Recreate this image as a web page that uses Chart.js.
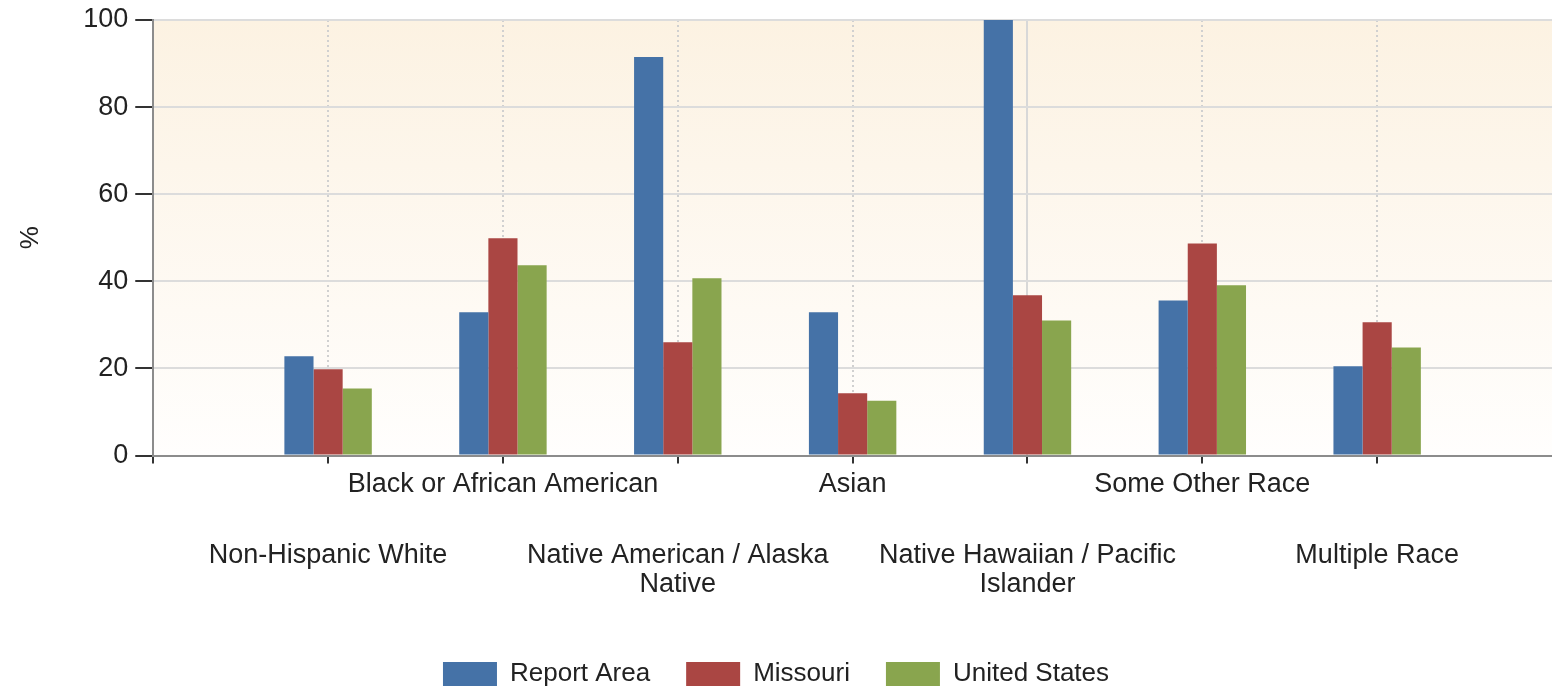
<!DOCTYPE html>
<html>
<head>
<meta charset="utf-8">
<script src="https://cdn.jsdelivr.net/npm/chart.js@4"></script>
<style>
  html, body { margin: 0; padding: 0; background: #fff; }
  #wrap { width: 1552px; height: 691px; }
</style>
</head>
<body>
<div id="wrap"><canvas id="chart"></canvas></div>
<script>
// Data (percent)
const categories = [
  'Non-Hispanic White',
  'Black or African American',
  ['Native American / Alaska', 'Native'],
  'Asian',
  ['Native Hawaiian / Pacific', 'Islander'],
  'Some Other Race',
  'Multiple Race'
];
const reportArea   = [22.8, 32.9, 91.5, 32.9, 100, 35.6, 20.5];
const missouri     = [19.8, 49.9, 26.0, 14.3, 36.8, 48.7, 30.6];
const unitedStates = [15.4, 43.7, 40.7, 12.6, 31.0, 39.1, 24.8];
const yTicks = [0, 20, 40, 60, 80, 100];

const FONT = "'Liberation Sans', Arial, sans-serif";
const TEXT = '#222';

// the axis runs one empty slot past each end, so pad labels and values
const labels = ['', ...categories, ''];
const pad = arr => [null, ...arr, null];
const lastIdx = labels.length - 1;

// light gradient behind the plot area
const plotBackground = {
  id: 'plotBackground',
  beforeDraw(chart) {
    const { ctx, chartArea: a } = chart;
    const g = ctx.createLinearGradient(0, a.top, 0, a.bottom);
    g.addColorStop(0, '#fcf2e2');
    g.addColorStop(1, '#fffefd');
    ctx.save();
    ctx.fillStyle = g;
    ctx.fillRect(a.left, a.top, a.right - a.left, a.bottom - a.top);
    ctx.restore();
  }
};

// plot runs right to the canvas edge
const noSidePadding = scale => {
  scale.paddingLeft = 0;
  scale.paddingRight = 0;
};

new Chart(document.getElementById('chart'), {
  type: 'bar',
  data: {
    labels: labels,
    datasets: [
      { label: 'Report Area', data: pad(reportArea), backgroundColor: '#4572a7' },
      { label: 'Missouri', data: pad(missouri), backgroundColor: '#aa4643' },
      { label: 'United States', data: pad(unitedStates), backgroundColor: '#89a54e' }
    ]
  },
  options: {
    responsive: true,
    maintainAspectRatio: false,
    animation: false,
    categoryPercentage: 0.5,
    barPercentage: 1.0,
    layout: { padding: { top: 20, right: 0, bottom: -6, left: 0 } },
    plugins: {
      tooltip: { enabled: false },
      legend: {
        position: 'bottom',
        labels: {
          boxWidth: 54,
          boxHeight: 24,
          padding: 36,
          color: TEXT,
          font: { family: FONT, size: 26 }
        }
      }
    },
    scales: {
      x: {
        type: 'category',
        offset: false,
        afterFit: noSidePadding,
        grid: {
          offset: false,
          lineWidth: 2,
          color: ctx => (ctx.index === 0 || ctx.index === lastIdx) ? 'rgba(0,0,0,0)' : '#d0d0d0',
          tickLength: 8,
          tickWidth: 2,
          tickColor: ctx => ctx.index === lastIdx ? 'rgba(0,0,0,0)' : '#333'
        },
        border: { color: '#8c8c8c', width: 2, dash: [2, 3] },
        ticks: {
          autoSkip: false,
          maxRotation: 0,
          minRotation: 0,
          padding: 5,
          color: TEXT,
          font: { family: FONT, size: 27, lineHeight: 1.2 },
          // first row: every second category
          callback: function (value, index) {
            return index % 2 === 0 ? this.getLabelForValue(value) : '';
          }
        }
      },
      x2: {
        type: 'category',
        position: 'bottom',
        labels: labels,
        offset: false,
        afterFit: scale => {
          noSidePadding(scale);
          scale.height -= 9;
        },
        grid: {
          offset: false,
          drawTicks: false,
          lineWidth: 2,
          // the one solid divider in the plot
          color: ctx => ctx.index === 5 ? '#d8d8d8' : 'rgba(0,0,0,0)'
        },
        border: { display: false },
        ticks: {
          autoSkip: false,
          maxRotation: 0,
          minRotation: 0,
          padding: 35,
          color: TEXT,
          font: { family: FONT, size: 27, lineHeight: 1.075 },
          // second row: the other categories
          callback: function (value, index) {
            return index % 2 === 1 ? this.getLabelForValue(value) : '';
          }
        }
      },
      y: {
        min: yTicks[0],
        max: yTicks[yTicks.length - 1],
        afterBuildTicks: scale => { scale.ticks = yTicks.map(v => ({ value: v })); },
        afterFit: scale => {
          scale.paddingTop = 0;
          scale.paddingBottom = 0;
        },
        grid: {
          color: '#dcdcdc',
          lineWidth: 2,
          tickLength: 18,
          tickWidth: 2,
          tickColor: '#333'
        },
        border: { color: '#8c8c8c', width: 2 },
        ticks: {
          padding: 7,
          color: TEXT,
          font: { family: FONT, size: 27 }
        },
        title: {
          display: true,
          text: '%',
          color: TEXT,
          font: { family: FONT, size: 26 },
          padding: { top: 15, bottom: 30 }
        }
      }
    }
  },
  plugins: [plotBackground]
});
</script>
</body>
</html>
